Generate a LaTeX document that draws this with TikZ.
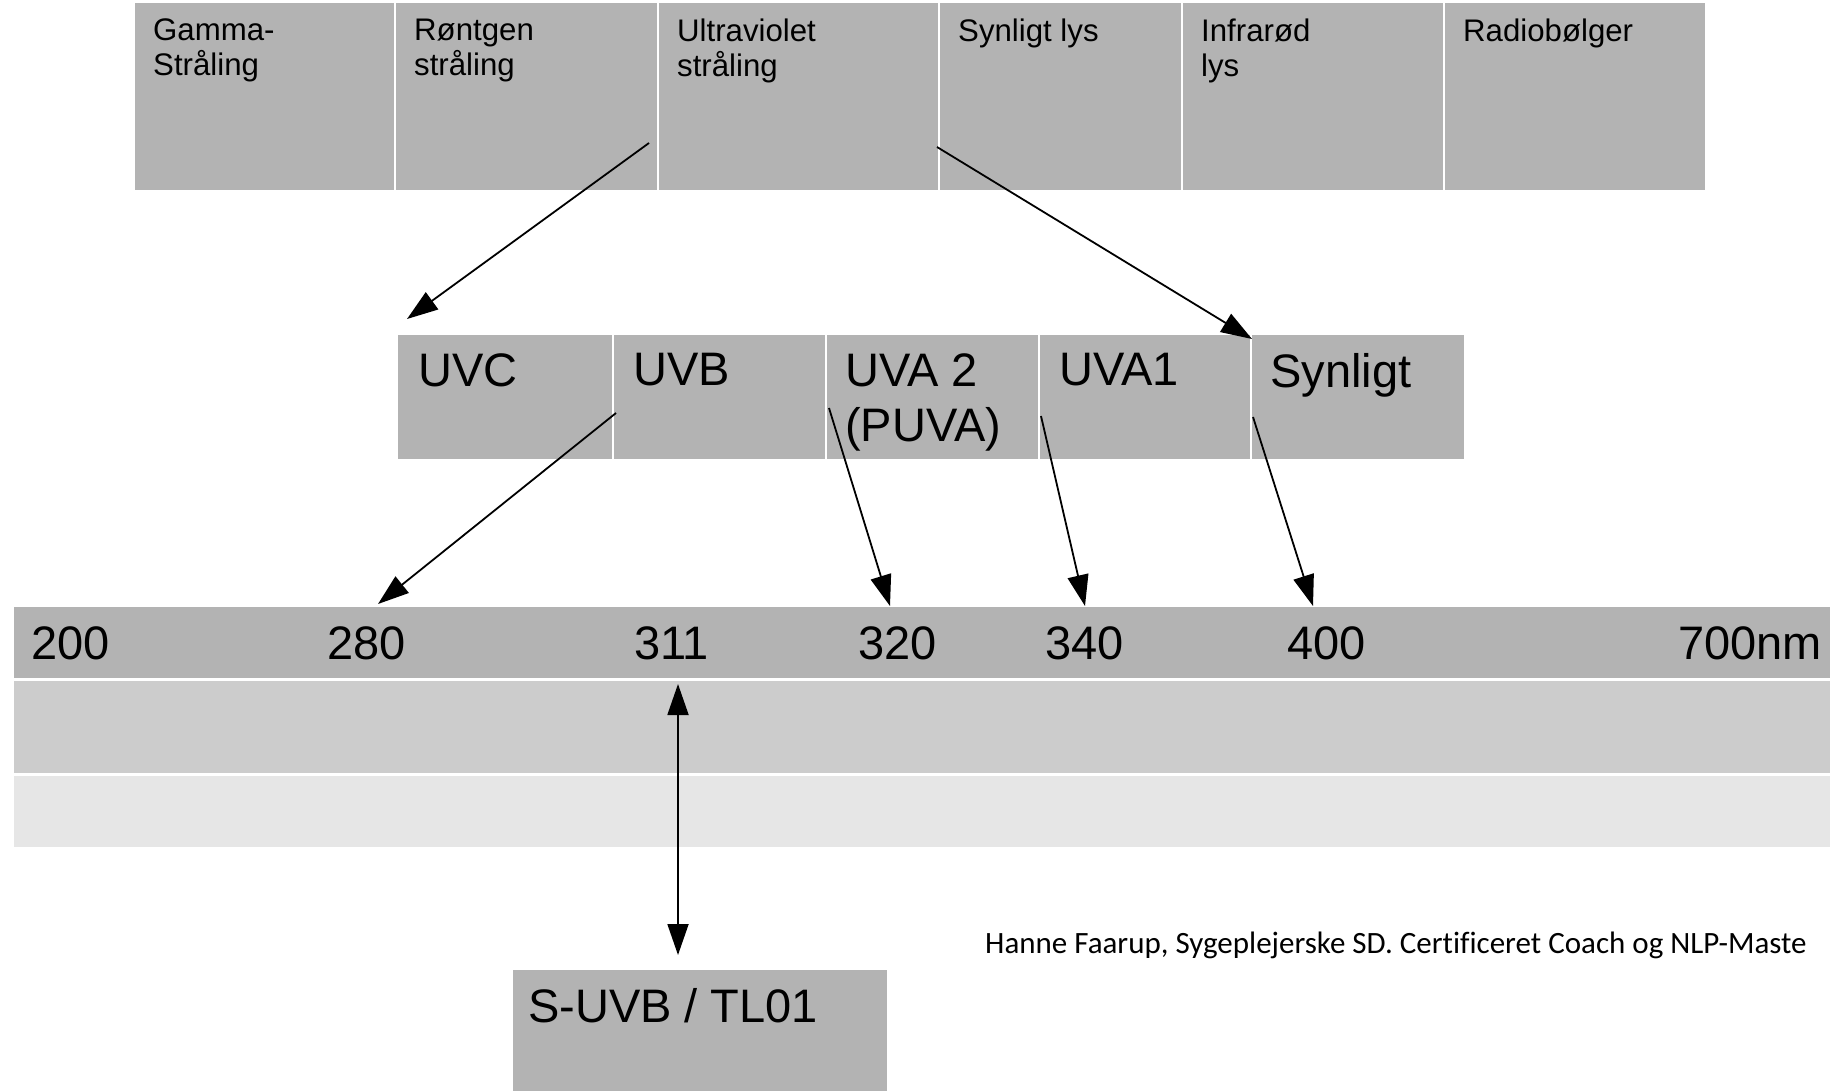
\documentclass[tikz,border=0pt]{standalone}
\usepackage{fontspec}
\setmainfont{Liberation Sans}
\newfontfamily\footfont[Ligatures=NoCommon]{Carlito}
\usetikzlibrary{arrows.meta}
\definecolor{boxgray}{RGB}{179,179,179}
\definecolor{midgray}{RGB}{204,204,204}
\definecolor{palegray}{RGB}{230,230,230}
\begin{document}
\begin{tikzpicture}[x=1pt,y=-1pt,
  box/.style={fill=boxgray, draw=none, inner sep=0pt, outer sep=0pt, anchor=north west},
  band/.style={draw=none, inner sep=0pt, outer sep=0pt, anchor=north west},
  toplbl/.style={anchor=north west, inner sep=0pt, align=left, font=\fontsize{31.2}{35}\selectfont},
  midlbl/.style={anchor=north west, inner sep=0pt, align=left, font=\fontsize{47}{55}\selectfont},
  numlbl/.style={anchor=base west, inner sep=0pt, font=\fontsize{47}{55}\selectfont},
  footlbl/.style={anchor=base west, inner sep=0pt, font=\footfont\fontsize{31}{37}\selectfont},
  arr/.style={line width=1.8pt, draw=black, -{Triangle[length=31pt,width=21pt]}},
  dblarr/.style={line width=1.8pt, draw=black, {Triangle[length=31pt,width=21pt]}-{Triangle[length=31pt,width=21pt]}},
]
\useasboundingbox (0,0) rectangle (1830,1090);
\fill[white] (0,0) rectangle (1830,1090);

% top row
\node[box, minimum width=259pt, minimum height=187pt] (gamma) at (135,3) {};
\node[box, minimum width=261pt, minimum height=187pt] (rontgen) at (396,3) {};
\node[box, minimum width=279pt, minimum height=187pt] (uv) at (659,3) {};
\node[box, minimum width=241pt, minimum height=187pt] (synlys) at (940,3) {};
\node[box, minimum width=260pt, minimum height=187pt] (ir) at (1183,3) {};
\node[box, minimum width=260pt, minimum height=187pt] (radio) at (1445,3) {};

\node[toplbl] (tgamma) at (153,19) {Gamma-\\Stråling};
\node[toplbl] (trontgen) at (414,19) {Røntgen\\stråling};
\node[toplbl] (tuv) at (677,19) {Ultraviolet\\stråling};
\node[toplbl] (tsynlys) at (958,19) {Synligt lys};
\node[toplbl] (tir) at (1201,19) {Infrarød\\lys};
\node[toplbl] (tradio) at (1463,19) {Radiobølger};

% middle row
\node[box, minimum width=214pt, minimum height=124pt] (uvc) at (398,335) {};
\node[box, minimum width=211pt, minimum height=124pt] (uvb) at (614,335) {};
\node[box, minimum width=211pt, minimum height=124pt] (uva2) at (827,335) {};
\node[box, minimum width=210pt, minimum height=124pt] (uva1) at (1040,335) {};
\node[box, minimum width=212pt, minimum height=124pt] (syn) at (1252,335) {};

\node[midlbl] (tuvc) at (418,353) {UVC};
\node[midlbl] (tuvb) at (633,353) {UVB};
\node[midlbl] (tuva2) at (845,353) {UVA 2\\(PUVA)};
\node[midlbl] (tuva1) at (1059,353) {UVA1};
\node[midlbl] (tsyn) at (1270,353) {Synligt};

% scale bands
\node[band, fill=boxgray, minimum width=1816pt, minimum height=71pt] (scale) at (14,607) {};
\node[band, fill=midgray, minimum width=1816pt, minimum height=92pt] (band2) at (14,681) {};
\node[band, fill=palegray, minimum width=1816pt, minimum height=71pt] (band3) at (14,776) {};

\node[numlbl] (n200) at (31,659) {200};
\node[numlbl] (n280) at (327,659) {280};
\node[numlbl] (n311) at (634,659) {311};
\node[numlbl] (n320) at (858,659) {320};
\node[numlbl] (n340) at (1045,659) {340};
\node[numlbl] (n400) at (1287,659) {400};
\node[numlbl] (n700) at (1678,659) {700nm};

% bottom box
\node[box, minimum width=374pt, minimum height=125pt] (suvb) at (513,970) {};
\node[numlbl] (tsuvb) at (528,1022) {S-UVB / TL01};

\node[footlbl] (foot) at (985,953) {Hanne Faarup, Sygeplejerske SD. Certificeret Coach og NLP-Maste};

% connector end points
\coordinate (a1s) at (649,143);
\coordinate (a1e) at (407,319);
\coordinate (a2s) at (937,147);
\coordinate (a2e) at (1252,339);
\coordinate (a3s) at (616,413);
\coordinate (a3e) at (378,604);
\coordinate (a4s) at (829,408);
\coordinate (a4e) at (890,606);
\coordinate (a5s) at (1041,416);
\coordinate (a5e) at (1085,606);
\coordinate (a6s) at (1253,417);
\coordinate (a6e) at (1313,606);
\coordinate (a7s) at (678,684);
\coordinate (a7e) at (678,955);

\draw[arr] (a1s) -- (a1e);
\draw[arr] (a2s) -- (a2e);
\draw[arr] (a3s) -- (a3e);
\draw[arr] (a4s) -- (a4e);
\draw[arr] (a5s) -- (a5e);
\draw[arr] (a6s) -- (a6e);
\draw[dblarr] (a7s) -- (a7e);
\end{tikzpicture}
\end{document}
